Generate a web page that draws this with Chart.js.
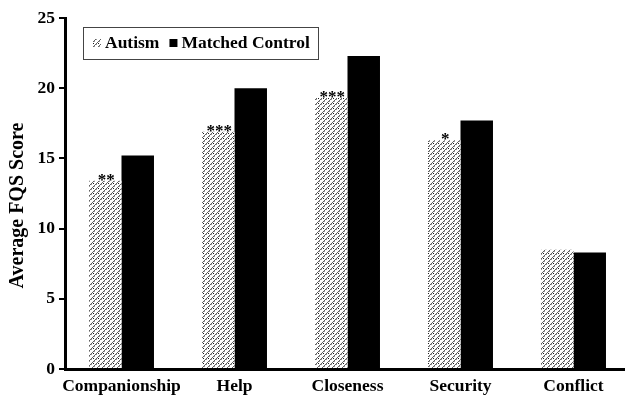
<!DOCTYPE html>
<html>
<head>
<meta charset="utf-8">
<script src="https://cdn.jsdelivr.net/npm/chart.js@4.4.1/dist/chart.umd.min.js"></script>
<style>
  html, body { margin: 0; padding: 0; background: #fff; overflow: hidden; }
  #wrap { width: 625px; height: 395px; overflow: hidden; }
  canvas { display: block; }
</style>
</head>
<body>
<div id="wrap"><canvas id="c" width="640" height="395"></canvas></div>
<script>
// Friendship Qualities Scale subscale means
const categories = ['Companionship', 'Help', 'Closeness', 'Security', 'Conflict'];
const autismScores = [13.4, 16.9, 19.3, 16.3, 8.5];
const controlScores = [15.2, 20.0, 22.3, 17.7, 8.3];
const significance = ['**', '***', '***', '*', ''];
const seriesNames = ['Autism', 'Matched Control'];
const yTitle = 'Average FQS Score';
const yMin = 0, yMax = 25, yStep = 5;

const SERIF = "'Liberation Serif', 'Times New Roman', serif";

// Light diagonal hatch used for the autism group
function makeHatch() {
  const t = document.createElement('canvas');
  t.width = 5; t.height = 5;
  const g = t.getContext('2d');
  g.fillStyle = '#ffffff';
  g.fillRect(0, 0, 5, 5);
  g.fillStyle = '#606060';
  for (let i = 0; i < 5; i++) g.fillRect(i, 4 - i, 1, 1);
  g.fillStyle = '#9a9a9a';
  g.fillRect(1, 4, 1, 1);
  g.fillRect(4, 1, 1, 1);
  g.fillStyle = '#1a1a1a';
  g.fillRect(3, 3, 1, 1);
  return g.createPattern(t, 'repeat');
}
const hatch = makeHatch();

// Significance stars above the autism bars
const starPlugin = {
  id: 'stars',
  afterDatasetsDraw(chart) {
    const meta = chart.getDatasetMeta(0);
    const ctx = chart.ctx;
    ctx.save();
    ctx.font = 'bold 17px ' + SERIF;
    ctx.fillStyle = '#000';
    ctx.textAlign = 'center';
    ctx.textBaseline = 'alphabetic';
    meta.data.forEach((bar, i) => {
      if (significance[i]) ctx.fillText(significance[i], bar.x + 1, bar.y + 4);
    });
    ctx.restore();
  }
};

// Rotated y-axis title, centred a little below the plot's midline
const yTitlePlugin = {
  id: 'yTitle',
  afterDraw(chart) {
    const ctx = chart.ctx;
    const area = chart.chartArea;
    ctx.save();
    ctx.translate(18, (area.top + area.bottom) / 2 + 12);
    ctx.rotate(-Math.PI / 2);
    ctx.font = 'bold 20px ' + SERIF;
    ctx.fillStyle = '#000';
    ctx.textAlign = 'center';
    ctx.textBaseline = 'middle';
    ctx.fillText(yTitle, 0, 0);
    ctx.restore();
  }
};

// Boxed legend inside the plot area
const boxLegend = {
  id: 'boxLegend',
  afterDraw(chart) {
    const ctx = chart.ctx;
    const area = chart.chartArea;
    const x0 = area.left + 18, y0 = area.top + 9, w = 235, h = 32;
    ctx.save();
    ctx.strokeStyle = '#444';
    ctx.lineWidth = 1;
    ctx.strokeRect(x0 + 0.5, y0 + 0.5, w, h);
    ctx.font = 'bold 17.5px ' + SERIF;
    ctx.textBaseline = 'alphabetic';
    let x = x0 + 10;
    const base = y0 + 21;
    chart.data.datasets.forEach((ds) => {
      ctx.fillStyle = ds.backgroundColor;
      ctx.fillRect(x, y0 + 12, 8, 8);
      ctx.fillStyle = '#000';
      ctx.fillText(ds.label, x + 12, base);
      x += 12 + ctx.measureText(ds.label).width + 10;
    });
    ctx.restore();
  }
};

new Chart(document.getElementById('c'), {
  type: 'bar',
  data: {
    labels: categories,
    datasets: [
      { label: seriesNames[0], data: autismScores, backgroundColor: hatch, borderWidth: 0 },
      { label: seriesNames[1], data: controlScores, backgroundColor: '#000000', borderWidth: 0 }
    ]
  },
  options: {
    responsive: false,
    animation: false,
    devicePixelRatio: 1,
    layout: { padding: { top: 18, right: 10, left: 0, bottom: 0 } },
    datasets: { bar: { categoryPercentage: 0.575, barPercentage: 1.0 } },
    plugins: {
      legend: { display: false },
      tooltip: { enabled: false }
    },
    scales: {
      x: {
        grid: { display: false, drawTicks: false },
        border: { display: true, color: '#000', width: 3 },
        ticks: {
          color: '#000',
          padding: 7,
          maxRotation: 0,
          autoSkip: false,
          font: { family: SERIF, size: 17.5, weight: 'bold' }
        },
        afterFit(s) { s.height = 26; }
      },
      y: {
        min: yMin,
        max: yMax,
        grid: { display: true, drawOnChartArea: false, drawTicks: true, tickLength: 6, lineWidth: 2, color: '#000' },
        border: { display: true, color: '#000', width: 3 },
        ticks: {
          stepSize: yStep,
          color: '#000',
          padding: 4,
          font: { family: SERIF, size: 17.5, weight: 'bold' }
        },
        title: { display: false },
        afterFit(s) { s.width = 65; }
      }
    }
  },
  plugins: [starPlugin, yTitlePlugin, boxLegend]
});
</script>
</body>
</html>
